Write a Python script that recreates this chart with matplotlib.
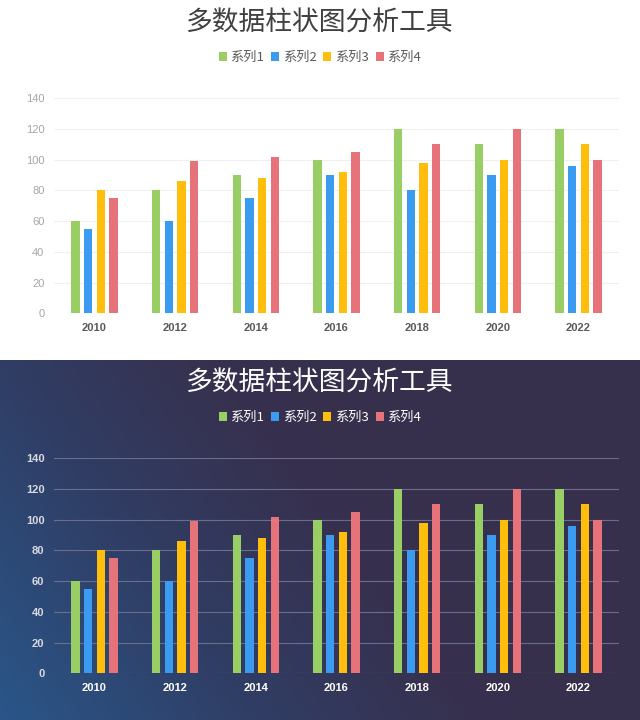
import numpy as np
import matplotlib as mpl
mpl.use('Agg')
import matplotlib.pyplot as plt
from matplotlib.patches import Patch
from matplotlib.colors import LinearSegmentedColormap

mpl.rcParams['font.family'] = ['Noto Sans CJK SC', 'DejaVu Sans']

years = ['2010', '2012', '2014', '2016', '2018', '2020', '2022']
series1 = [60, 80, 90, 100, 120, 110, 120]
series2 = [55, 60, 75, 90, 80, 90, 96]
series3 = [80, 86, 88, 92, 98, 100, 110]
series4 = [75, 99, 102, 105, 110, 120, 100]
seriesNames = ['系列1', '系列2', '系列3', '系列4']
title = '多数据柱状图分析工具'

colors = ['#98CE63', '#3A9BF0', '#FFBE0B', '#E6727A']

W, H = 640, 720

def px(x, y, w, h):
    # pixel box (top-left origin) -> figure fraction
    return [x / W, 1 - (y + h) / H, w / W, h / H]

def drawPanel(fig, top, dark):
    txtCol = 'white' if dark else '#404040'
    fig.text(320 / W, 1 - (top + 23) / H, title, ha='center', va='center',
             fontsize=19.3, color=txtCol, fontweight='light')
    handles = [Patch(facecolor=c, edgecolor='none') for c in colors]
    leg = fig.legend(handles, seriesNames, loc='center', ncol=4,
                     bbox_to_anchor=(320 / W, 1 - (top + 57.5) / H), frameon=False,
                     handlelength=0.6, handleheight=0.6, handletextpad=0.3,
                     columnspacing=0.5, prop={'family': ['Noto Sans CJK SC', 'DejaVu Sans'], 'size': 9.5})
    for t in leg.get_texts():
        t.set_color('white' if dark else '#595959')

    ax = fig.add_axes(px(54.2, top + 98.3, 564.6, 215))
    ax.set_facecolor('none')
    x = np.arange(len(years))
    bw = 0.103
    pitch = 0.157
    data = [series1, series2, series3, series4]
    for i, vals in enumerate(data):
        ax.bar(x + (i - 1.5) * pitch, vals, bw, color=colors[i], zorder=3)
    ax.set_xlim(-0.5, len(years) - 0.5)
    ax.set_ylim(0, 140)
    ax.set_yticks(range(0, 141, 20))
    ax.set_xticks(x)
    ax.set_xticklabels(years)
    for s in ax.spines.values():
        s.set_visible(False)
    ax.tick_params(length=0)
    gridCol = '#6A6E8E' if dark else '#F0F0F0'
    ax.grid(axis='y', color=gridCol, linewidth=0.8, zorder=0)
    ax.grid(axis='x', visible=False)
    for lab in ax.get_yticklabels():
        lab.set_family('Liberation Sans')
        lab.set_fontsize(8)
        if dark:
            lab.set_color('#D8D8E0')
            lab.set_fontweight('bold')
        else:
            lab.set_color('#A6A6A6')
    for lab in ax.get_xticklabels():
        lab.set_family('Liberation Sans')
        lab.set_fontsize(8)
        lab.set_fontweight('bold')
        lab.set_color('white' if dark else '#595959')
    ax.tick_params(axis='y', pad=7)
    ax.tick_params(axis='x', pad=7)
    return ax

fig = plt.figure(figsize=(6.4, 7.2), dpi=100)
fig.patch.set_facecolor('white')

# dark gradient background for the lower half
bg = fig.add_axes(px(0, 360, 640, 360))
bg.set_axis_off()
u = np.linspace(0, 1, 320)
v = np.linspace(0, 1, 180)
U, V = np.meshgrid(u, v)
s = np.clip(U * 1.1 + (1 - V) * 0.45, 0, 1)
cmap = LinearSegmentedColormap.from_list(
    'bgGrad', [(0, '#2A5689'), (0.45, '#303D64'), (0.8, '#37314F'), (1, '#36304D')])
bg.imshow(s, cmap=cmap, aspect='auto', extent=[0, 1, 1, 0], vmin=0, vmax=1)
bg.set_xlim(0, 1)
bg.set_ylim(1, 0)

drawPanel(fig, 0, False)
drawPanel(fig, 360, True)

plt.savefig('out.png', dpi=100)
plt.close('all')
